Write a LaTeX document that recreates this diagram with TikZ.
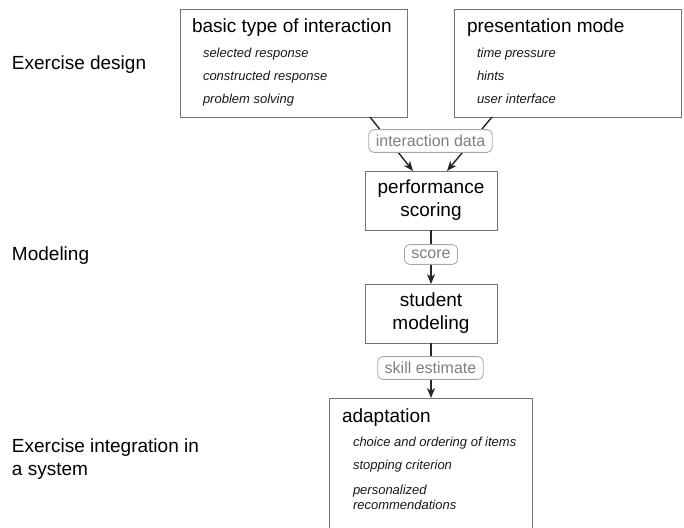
\documentclass[tikz,border=0pt]{standalone}
\usepackage{fontspec}
\setmainfont{Liberation Sans}
\usetikzlibrary{arrows.meta,positioning}
\begin{document}
\begin{tikzpicture}[x=1pt,y=-1pt,
  every node/.style={inner sep=0pt,outer sep=0pt},
  sidelabel/.style={anchor=base west,font=\fontsize{19}{23}\selectfont,text=black},
  boxtitle/.style={anchor=base west,font=\fontsize{19}{23}\selectfont,text=black},
  boxitem/.style={anchor=base west,font=\fontsize{13}{15}\selectfont\itshape,text=black!90},
  frame/.style={draw=black!55,line width=0.9pt,rectangle,fill=white},
  procbox/.style={frame,align=center,font=\fontsize{19}{23}\selectfont,text=black},
  flowlabel/.style={draw=black!35,rounded corners=5pt,fill=white,text=black!50,
     font=\fontsize{16}{18}\selectfont,inner xsep=7pt,inner ysep=5.5pt,line width=0.8pt},
  flow/.style={draw=black!85,line width=1.4pt,-{Stealth[length=10pt,width=8pt,inset=3pt]}},
]
\clip (0,0) rectangle (684,527);
\fill[white] (0,0) rectangle (684,527);

% side labels
\node[sidelabel] (lab1) at (12,69) {Exercise design};
\node[sidelabel] (lab2) at (12,260) {Modeling};
\node[sidelabel] (lab3) at (12,452) {Exercise integration in};
\node[sidelabel] (lab4) at (12,475) {a system};

% box 1
\node[frame,minimum width=227pt,minimum height=108pt,anchor=north west] (box1) at (180,9) {};
\node[boxtitle] (b1t) at (192,33) {basic type of interaction};
\node[boxitem] (b1a) at (203,57) {selected response};
\node[boxitem] (b1b) at (203,80) {constructed response};
\node[boxitem] (b1c) at (203,103) {problem solving};

% box 2
\node[frame,minimum width=227pt,minimum height=108pt,anchor=north west] (box2) at (454,9) {};
\node[boxtitle] (b2t) at (467,33) {presentation mode};
\node[boxitem] (b2a) at (477,57) {time pressure};
\node[boxitem] (b2b) at (477,80) {hints};
\node[boxitem] (b2c) at (477,103) {user interface};

% process boxes
\node[procbox,minimum width=132pt,minimum height=59pt] (perf) at (431,200.5) {performance\\scoring};
\node[procbox,minimum width=132pt,minimum height=59pt] (stud) at (431,313.5) {student\\modeling};

% adaptation
\node[frame,minimum width=203pt,minimum height=150pt,anchor=north west] (adapt) at (329,398) {};
\node[boxtitle] (at) at (342,422) {adaptation};
\node[boxitem] (aa) at (353,446) {choice and ordering of items};
\node[boxitem] (ab) at (353,469) {stopping criterion};
\node[boxitem] (ac) at (353,494) {personalized};
\node[boxitem] (ad) at (353,509) {recommendations};

% connectors
\draw[flow] ([xshift=-37pt]box1.south east) -- ([xshift=-18pt]perf.north);
\draw[flow] ([xshift=38pt]box2.south west) -- ([xshift=16pt]perf.north);
\draw[flow] (perf.south) -- (stud.north);
\draw[flow] (stud.south) -- (stud.south |- adapt.north);

% labels on connectors
\node[flowlabel] (l1) at (430.5,141) {interaction data};
\node[flowlabel] (l2) at (431,254.5) {score};
\node[flowlabel] (l3) at (430.5,368) {skill estimate};
\end{tikzpicture}
\end{document}
